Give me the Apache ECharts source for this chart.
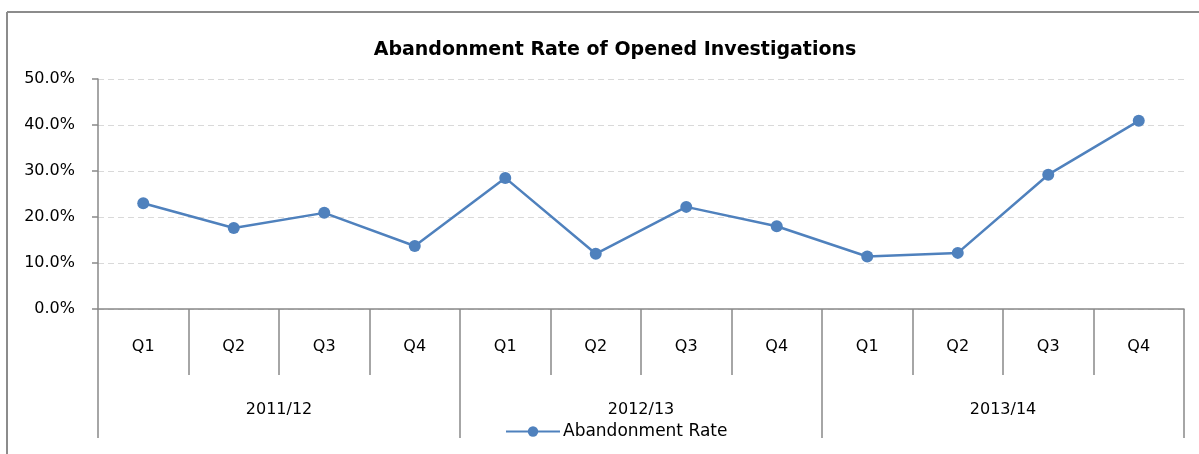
<!DOCTYPE html>
<html>
<head>
<meta charset="utf-8">
<script src="https://cdn.jsdelivr.net/npm/echarts@6/dist/echarts.min.js"></script>
<style>
  html, body { margin: 0; padding: 0; background: #fff; }
  #chart { width: 1199px; height: 454px; }
</style>
</head>
<body>
<div id="chart"></div>
<script>
// data
var quarters = ['Q1', 'Q2', 'Q3', 'Q4', 'Q1', 'Q2', 'Q3', 'Q4', 'Q1', 'Q2', 'Q3', 'Q4'];
var years = ['2011/12', '2012/13', '2013/14'];
var abandonmentRate = [23.0, 17.6, 20.9, 13.7, 28.5, 12.0, 22.2, 18.0, 11.4, 12.2, 29.2, 40.9];
var yTicks = { min: 0, max: 50, interval: 10 };

var font = 'DejaVu Sans';
var axisGray = '#898989';

var chart = echarts.init(document.getElementById('chart'));
var option = {
  animation: false,
  title: {
    text: 'Abandonment Rate of Opened Investigations',
    left: 610,
    textAlign: 'center',
    top: 36,
    textStyle: { fontFamily: font, fontSize: 19, fontWeight: 'bold', color: '#000' }
  },
  legend: {
    data: ['Abandonment Rate'],
    left: 500,
    top: 418,
    itemWidth: 54,
    itemHeight: 13,
    itemGap: 4,
    textStyle: { fontFamily: font, fontSize: 17, color: '#000', padding: [0, 0, 0, -2] }
  },
  grid: { left: 98, right: 15, top: 79, bottom: 145 },
  xAxis: [
    {
      type: 'category',
      data: quarters,
      boundaryGap: true,
      position: 'bottom',
      axisLine: { show: true, lineStyle: { color: axisGray, width: 1.5 } },
      axisTick: { show: true, length: 66, interval: 0, lineStyle: { color: axisGray, width: 1.5 } },
      axisLabel: { interval: 0, margin: 30, fontFamily: font, fontSize: 16, color: '#000' }
    },
    {
      type: 'category',
      data: years,
      boundaryGap: true,
      position: 'bottom',
      axisLine: { show: false },
      axisTick: { show: true, length: 129, interval: 0, lineStyle: { color: axisGray, width: 1.5 } },
      axisLabel: { interval: 0, margin: 93, fontFamily: font, fontSize: 16, color: '#000' }
    }
  ],
  yAxis: {
    type: 'value',
    min: yTicks.min,
    max: yTicks.max,
    interval: yTicks.interval,
    axisLine: { show: true, lineStyle: { color: axisGray, width: 1.5 } },
    axisTick: { show: true, length: 6, lineStyle: { color: axisGray, width: 1.5 } },
    axisLabel: {
      margin: 23,
      fontFamily: font,
      fontSize: 16,
      color: '#000',
      formatter: function (v) { return v.toFixed(1) + '%'; }
    },
    splitLine: { show: true, lineStyle: { color: '#d9d9d9', type: [6, 4], width: 1 } }
  },
  series: [
    {
      name: 'Abandonment Rate',
      type: 'line',
      xAxisIndex: 0,
      data: abandonmentRate,
      symbol: 'circle',
      symbolSize: 12,
      lineStyle: { color: '#4f81bd', width: 2.5 },
      itemStyle: { color: '#4f81bd' }
    }
  ],
  graphic: [
    { type: 'line', shape: { x1: 7, y1: 12, x2: 1199, y2: 12 }, style: { stroke: '#8c8c8c', lineWidth: 2 } },
    { type: 'line', shape: { x1: 7, y1: 12, x2: 7, y2: 454 }, style: { stroke: '#8c8c8c', lineWidth: 2 } }
  ]
};
chart.setOption(option);
</script>
</body>
</html>
